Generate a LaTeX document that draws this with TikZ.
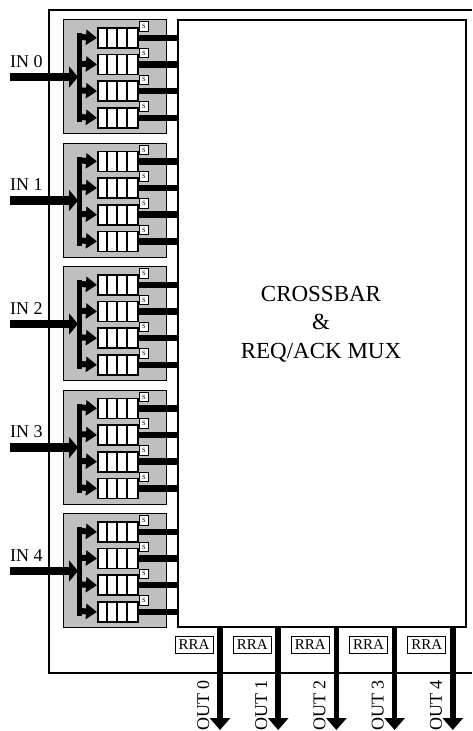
\documentclass[tikz,border=0pt]{standalone}
\usepackage{fontspec}
\setmainfont{Liberation Serif}
\usetikzlibrary{arrows.meta}
\begin{document}
\begin{tikzpicture}[x=1pt,y=-1pt,
  frame/.style={line width=1.2},
  blk/.style={draw, line width=0.6, fill=black!25, inner sep=0, minimum width=103, minimum height=114, anchor=north west},
  queue/.style={draw, line width=1.8, fill=white, inner sep=0, minimum width=40, minimum height=20, anchor=north west},
  cell/.style={line width=1.1},
  sbox/.style={draw, line width=0.9, fill=white, inner sep=0, minimum width=8.5, minimum height=9.5, font=\fontsize{6.5}{6.5}\selectfont},
  outline/.style={line width=6.5},
  vbar/.style={line width=5.5},
  branch/.style={line width=6, -{Triangle[length=11,width=15]}},
  inarr/.style={line width=8.5, -{Triangle[length=9,width=21]}},
  outarr/.style={line width=5.5, -{Triangle[length=12,width=20]}},
  rra/.style={draw, line width=1, fill=white, inner sep=0, minimum width=38, minimum height=17, font=\fontsize{15}{15}\selectfont},
  lab/.style={font=\fontsize{18}{18}\selectfont, inner sep=0}
]
\useasboundingbox (0,0) rectangle (472,731);
% outer frame
\coordinate (f1) at (472,10);
\coordinate (f2) at (49,10);
\coordinate (f3) at (49,673);
\coordinate (f4) at (472,673);
\draw[frame] (f1) -- (f2) -- (f3) -- (f4);
% crossbar
\node[draw, line width=1.8, fill=white, inner sep=0, minimum width=288, minimum height=607, anchor=north west] (xbar) at (177,19) {};
\node[align=center, font=\fontsize{23}{28.5}\selectfont, inner sep=0] (xtext) at (321,324) {CROSSBAR\\\&\\REQ/ACK MUX};
% input blocks
\foreach \i in {0,...,4}{
  \pgfmathsetmacro\T{19+123.5*\i}
  \node[blk] (b\i) at (63,\T) {};
  \foreach \j in {0,...,3}{
    \pgfmathsetmacro\qt{\T+8+26.67*\j}
    \pgfmathsetmacro\qc{\qt+10}
    \node[queue] (q\i\j) at (97,\qt) {};
    \draw[cell] (107,\qt) -- ++(0,20) (117,\qt) -- ++(0,20) (127,\qt) -- ++(0,20);
    \node[sbox] (s\i\j) at (144,\qt-0.5) {S};
    \coordinate (br\i\j) at (79.5,\qc);
    \draw[branch] (br\i\j) -- (q\i\j.west);
    \draw[outline] (q\i\j.east) -- (q\i\j.east -| xbar.west);
  }
  \coordinate (vt\i) at (79.5,\T+14);
  \coordinate (vb\i) at (79.5,\T+103);
  \draw[vbar] (vt\i) -- (vb\i);
  \coordinate (in\i) at (10,\T+58);
  \coordinate (ie\i) at (78,\T+58);
  \draw[inarr] (in\i) -- (ie\i);
  \node[lab, anchor=base west] (inl\i) at (10,\T+48) {IN \i};
}
% outputs
\foreach \k in {0,...,4}{
  \pgfmathsetmacro\X{220+58.2*\k}
  \coordinate (os\k) at (\X,626);
  \coordinate (oe\k) at (\X,730);
  \draw[outarr] (os\k) -- (oe\k);
  \node[rra] (r\k) at (\X-26,644.5) {RRA};
  \node[lab, rotate=90, anchor=base west] (ol\k) at (\X-11,731) {OUT \k};
}
\end{tikzpicture}
\end{document}
